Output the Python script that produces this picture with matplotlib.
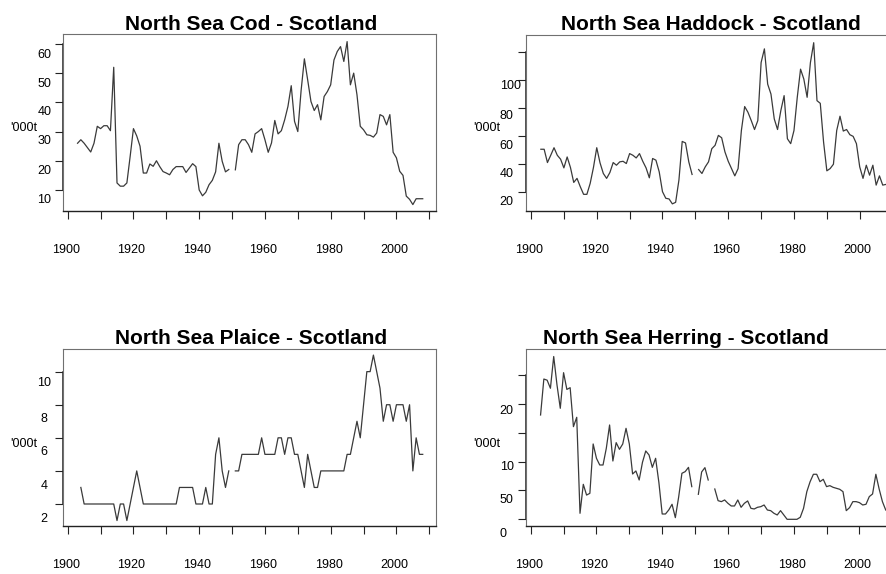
import numpy as np
import matplotlib
matplotlib.use("Agg")
import matplotlib.pyplot as plt

plt.rcParams['font.family'] = ['Liberation Sans', 'DejaVu Sans']

W, H = 886, 574

years = list(range(1903, 2009))
nan = float('nan')

cod_a = [26, 27.2, 26, 24.5, 23, 26, 31.8, 31, 32, 32, 30.3, 52, 12.4, 11.3, 11.3, 12.4,
         21.5, 31, 28.5, 25, 15.8, 15.8, 18.9, 18.1, 20, 18, 16.3, 15.8, 15.2, 17, 18, 18,
         18, 16, 17.5, 19, 18, 10, 8, 9.2, 11.8, 13.3, 16.2, 26, 19.8, 16.2, 17]
cod_b = [16.9, 25.5, 27.2, 27.2, 25.5, 22.9, 29.2, 30, 31, 27.2, 22.9, 26.1, 33.8, 29.2,
         30.3, 34, 38.6, 45.7, 33.5, 30, 44, 54.9, 47.7, 40.3, 37.2, 39.2, 34, 42, 43.7, 46,
         54.5, 57.4, 59.1, 54, 60.8, 46, 50, 42.6, 31.8, 30.6, 28.9, 28.7, 28.1, 29.5, 35.8,
         35.2, 32.3, 35.8, 22.9, 21, 16.4, 15, 7.9, 6.8, 5, 7, 7, 7]

haddock_a = [50.3, 50.3, 40.8, 46, 51.4, 46, 43.2, 37, 44.8, 37.3, 26.6, 29.5, 23.5, 18.1,
             18.1, 25.9, 37.3, 51.4, 40.6, 33, 29.5, 33.7, 40.8, 38.9, 41.3, 41.7, 40.1, 47.2,
             46, 44.1, 47.2, 41.7, 37, 29.9, 43.7, 42.5, 34.2, 20, 15.3, 14.8, 11.3, 12.4,
             28.3, 55.9, 54.8, 41.3, 32.3]
haddock_b = [35.8, 33, 37.7, 41.3, 50.7, 53.1, 60.2, 58.5, 48.4, 41.7,
             36.5, 31.3, 36.5, 63.7, 80.8, 76.7, 70.8, 64.4, 70.8, 112.2,
             122, 96.8, 89.7, 72, 64.4, 77.9, 88.6, 57.8, 54.3, 63.7,
             87.4, 107.5, 100.4, 87.4, 112.2, 126.4, 85, 83.1, 55.5, 34.9,
             36.5, 39.6, 63.7, 73.9, 63.3, 64.4, 60.7, 59.5, 54.3, 37.7,
             29.5, 38.9, 31.8, 38.9, 24.7, 31.3, 24.7, 25.2]

plaice_a = [3, 2, 2, 2, 2, 2, 2, 2, 2, 2, 2, 1, 2, 2, 1, 2, 3, 4, 3,
            2, 2, 2, 2, 2, 2, 2, 2, 2, 2, 2, 3, 3, 3, 3, 3,
            2, 2, 2, 3, 2, 2, 5, 6, 4, 3, 4]
plaice_b = [4, 4, 5, 5, 5, 5, 5, 5, 6, 5, 5, 5, 5, 6, 6, 5, 6, 6, 5, 5,
            4, 3, 5, 4, 3, 3, 4, 4, 4, 4, 4, 4, 4, 4, 5, 5, 6, 7, 6, 8,
            10, 10, 11, 10, 9, 7, 8, 8, 7, 8, 8, 8, 7, 8, 4, 6, 5, 5]

herring_a = [180.7, 243, 241, 227, 282, 232.7, 192.3, 254, 225, 228, 160.5, 176.7, 10.4,
             60.6, 42, 45, 130.5, 105.7, 94.1, 94.1, 123, 163.4, 101, 132.8, 121.2, 130.5,
             157.6, 130.5, 78.5, 83.7, 68.1, 98.7, 118.4, 111.4, 90, 105.7, 63.5, 9.2, 9.2,
             16.2, 26, 2.9, 38.2, 79.7, 82.6, 90, 56.6]
herring_b = [43.3, 82, 89.5, 68.1]
herring_c = [52.5, 32.3, 30.6, 33.5, 27.7,
             23.1, 23.1, 33.5, 20.8, 27.7, 31.8, 19, 17.9, 20.8, 21.9,
             24.8, 16.1, 15, 10.4, 7.5, 15, 7.5, 0, 0, 0,
             0, 3.5, 19, 47.9, 65.2, 78, 78, 65.2, 69.3, 56.6,
             58.3, 55.4, 53.7, 52, 47.9, 15, 20.2, 30.6, 30.6, 28.9,
             24.8, 26, 39.3, 43.9, 78, 52.5, 30.6, 16.1]

cod = cod_a + [nan] + cod_b
haddock = haddock_a + [nan] + haddock_b
plaice = [nan] + plaice_a + [nan] + plaice_b
herring = herring_a + [nan] + herring_b + [nan] + herring_c

titles = ["North Sea Cod - Scotland", "North Sea Haddock - Scotland",
          "North Sea Plaice - Scotland", "North Sea Herring - Scotland"]
ylabel = "'000t"

x_ticks = list(range(1900, 2011, 10))
x_labels = [1900, 1920, 1940, 1960, 1980, 2000]

cod_yticks = [10, 20, 30, 40, 50, 60]
cod_ylabels = ["10", "20", "30", "40", "50", "60"]
haddock_yticks = [20, 40, 60, 80, 100, 120]
haddock_ylabels = ["20", "40", "60", "80", "100", None]
plaice_yticks = [2, 4, 6, 8, 10]
plaice_ylabels = ["2", "4", "6", "8", "10"]
herring_yticks = [0, 50, 100, 150, 200, 250]
herring_ylabels = ["0", "50", "10", None, "20", None]

# layout (pixels)
panels = [
    dict(series=cod, box=(63, 34, 436, 211), ylim=(2.8, 63.4), yt=cod_yticks, yl=cod_ylabels,
         ydy=[9.7, 10.7, 9.7, 10, 11, 11], ha='center', ldx=-18.8,
         title_xy=(251.5, 29.5), ylab_xy=(10, 128)),
    dict(series=haddock, box=(526.3, 35, 899.3, 211), ylim=(6.2, 131.9), yt=haddock_yticks,
         yl=haddock_ylabels, ydy=[10, 10, 10.7, 8.4, 6.7, 0], ha='left', ldx=-26.6,
         title_xy=(711.3, 30.5), ylab_xy=(473, 128)),
    dict(series=plaice, box=(63, 349.3, 436, 526), ylim=(0.67, 11.35), yt=plaice_yticks,
         yl=plaice_ylabels, ydy=[14.7, 15.3, 14.4, 14, 11.3], ha='center', ldx=-19,
         title_xy=(251.5, 344.3), ylab_xy=(10, 443.7)),
    dict(series=herring, box=(526, 349.3, 899, 526), ylim=(-11.6, 294.5), yt=herring_yticks,
         yl=herring_ylabels, ydy=[14.4, 9.3, 5.3, 0, 7, 0], ha='left', ldx=-26.3,
         title_xy=(685.7, 344.3), ylab_xy=(473, 443.7)),
]

fig = plt.figure(figsize=(W / 100, H / 100), dpi=100)
fig.patch.set_facecolor('white')

for p, title in zip(panels, titles):
    l, t, r, b = p['box']
    ax = fig.add_axes([l / W, 1 - b / H, (r - l) / W, (b - t) / H])
    ax.plot(years, p['series'], color='#3a3a3a', lw=0.9)
    ax.set_xlim(1898.57, 2012.04)
    ax.set_ylim(*p['ylim'])
    ax.set_xticks(x_ticks)
    ax.set_yticks(p['yt'])
    ax.tick_params(axis='both', direction='out', length=5.5, width=0.8, color='#222222',
                   labelleft=False, labelbottom=False)
    for side in ['top', 'right', 'left']:
        ax.spines[side].set_color('#707070')
        ax.spines[side].set_linewidth(0.8)
    ax.spines['bottom'].set_color('#222222')
    ax.spines['bottom'].set_linewidth(1.0)
    ax.plot([0, 0], [p['yt'][0], p['yt'][-1]], transform=ax.get_yaxis_transform(),
            color='#222222', lw=1.1, clip_on=False)
    for v, lab, dy in zip(p['yt'], p['yl'], p['ydy']):
        if lab is None:
            continue
        ax.annotate(lab, xy=(0, v), xycoords=ax.get_yaxis_transform(),
                    xytext=(p['ldx'], -dy), textcoords='offset pixels',
                    ha=p['ha'], va='center', fontsize=9, color='black')
    for yr in x_labels:
        ax.annotate(str(yr), xy=(yr, 0), xycoords=ax.get_xaxis_transform(),
                    xytext=(-2, -39), textcoords='offset pixels',
                    ha='center', va='center', fontsize=9, color='black')
    tx, ty = p['title_xy']
    fig.text(tx / W, 1 - ty / H, title, ha='center', va='baseline',
             fontsize=15, fontweight='bold', color='black')
    lx, ly = p['ylab_xy']
    fig.text(lx / W, 1 - ly / H, ylabel, ha='left', va='center', fontsize=9, color='black')

fig.savefig('out.png', dpi=100)
